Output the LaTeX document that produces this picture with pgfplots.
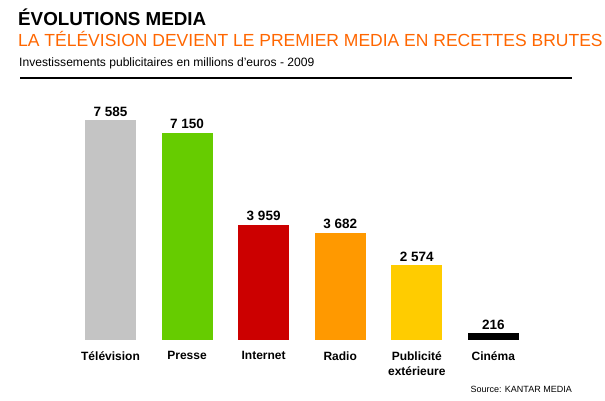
\documentclass[border=0pt]{standalone}
\usepackage{pgfplots}
\pgfplotsset{compat=1.18}
\usepackage{fontspec}
\setmainfont{Liberation Sans}
\definecolor{cTV}{RGB}{196,196,196}
\definecolor{cPr}{RGB}{102,204,0}
\definecolor{cIn}{RGB}{204,0,0}
\definecolor{cRa}{RGB}{255,153,0}
\definecolor{cPu}{RGB}{255,204,0}
\definecolor{cOr}{RGB}{255,102,0}
\begin{document}
\begin{tikzpicture}[x=1pt,y=1pt]
\path[use as bounding box] (0,0) rectangle (605,400);
\node[anchor=base west, inner sep=0pt, font=\bfseries\fontsize{18.8}{20}\selectfont] at (18,374) {ÉVOLUTIONS MEDIA};
\node[anchor=base west, inner sep=0pt, text=cOr, font=\fontsize{17.5}{19}\selectfont] at (18,353.3) {LA TÉLÉVISION DEVIENT LE PREMIER MEDIA EN RECETTES BRUTES};
\node[anchor=base west, inner sep=0pt, font=\fontsize{12.1}{14}\selectfont] at (19,333.3) {Investissements publicitaires en millions d'euros - 2009};
\draw[line width=2.3pt] (20,322.3) -- (571.7,322.3);
\node[anchor=base east, inner sep=0pt, font=\fontsize{9}{11}\selectfont] at (572,7.3) {Source: KANTAR MEDIA};
\begin{axis}[
  at={(33.94pt,60.5pt)}, anchor=south west,
  scale only axis, width=535.96pt, height=231.5pt,
  xmin=-1, xmax=6, ymin=0, ymax=8000,
  axis line style={draw=none},
  major tick length=0pt,
  ytick=\empty,
  xtick={0,1,2,3,4,5},
  xticklabels={Télévision,Presse,Internet,Radio,{Publicité\\extérieure},Cinéma},
  xticklabel style={anchor=north, inner sep=0pt, yshift=-11.7pt, align=center, font=\bfseries\fontsize{12}{15}\selectfont},
  ybar, bar width=51pt, bar shift=0pt,
  nodes near coords,
  point meta=explicit symbolic,
  every node near coord/.append style={anchor=base, inner sep=0pt, yshift=4pt, font=\bfseries\fontsize{13.5}{15}\selectfont, text=black},
  clip=false,
]
\addplot[draw=none, fill=cTV] coordinates {(0,7585) [7 585]};
\addplot[draw=none, fill=cPr] coordinates {(1,7150) [7 150]};
\addplot[draw=none, fill=cIn] coordinates {(2,3959) [3 959]};
\addplot[draw=none, fill=cRa] coordinates {(3,3682) [3 682]};
\addplot[draw=none, fill=cPu] coordinates {(4,2574) [2 574]};
\addplot[draw=none, fill=black] coordinates {(5,216) [216]};
\end{axis}
\end{tikzpicture}
\end{document}
